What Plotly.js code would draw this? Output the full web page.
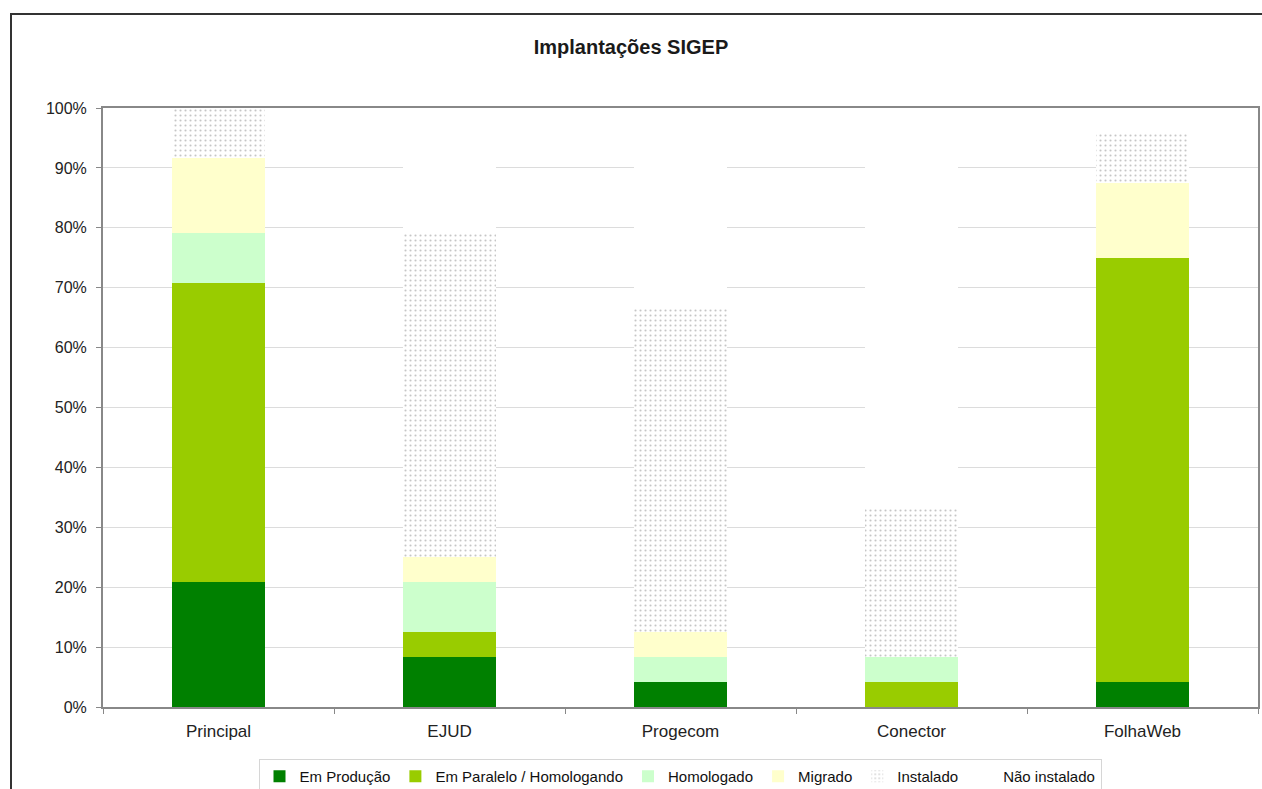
<!DOCTYPE html>
<html>
<head>
<meta charset="utf-8">
<script src="https://cdn.plot.ly/plotly-3.0.1.min.js"></script>
<style>
html,body{margin:0;padding:0;background:#fff;}
#chart{width:1262px;height:789px;}
</style>
</head>
<body>
<div id="chart"></div>
<script>
const categories = ["Principal", "EJUD", "Progecom", "Conector", "FolhaWeb"];
const seriesNames = ["Em Produção", "Em Paralelo / Homologando", "Homologado", "Migrado", "Instalado", "Não instalado"];
const emProducao   = [20.8, 8.3, 4.2, 0.0, 4.2];
const emParalelo   = [50.0, 4.2, 0.0, 4.2, 70.8];
const homologado   = [8.3, 8.3, 4.2, 4.2, 0.0];
const migrado      = [12.5, 4.2, 4.2, 0.0, 12.5];
const instalado    = [8.3, 54.2, 54.2, 25.0, 8.3];
const naoInstalado = [0.0, 20.8, 33.3, 66.7, 4.2];
const yTickVals = [0, 0.1, 0.2, 0.3, 0.4, 0.5, 0.6, 0.7, 0.8, 0.9, 1.0];
const yTickText = ["0%", "10%", "20%", "30%", "40%", "50%", "60%", "70%", "80%", "90%", "100%"];

const seriesValues = [emProducao, emParalelo, homologado, migrado, instalado, naoInstalado];
const colors = ["#008000", "#99CC00", "#CCFFCC", "#FFFFCC", "#ffffff", "#ffffff"];

const traces = seriesValues.map((vals, i) => {
  const marker = {color: colors[i], line: {width: 0}};
  if (i === 4) {
    marker.pattern = {shape: ".", fgcolor: "#c6c6c6", bgcolor: "#ffffff", size: 5, solidity: 0.14};
  }
  return {
    type: "bar",
    name: seriesNames[i],
    x: categories,
    y: vals.map(v => v / 100),
    marker: marker,
    hoverinfo: "none"
  };
});

const W = 1262, H = 789, L = 103, R = 4, T = 108, B = 82;
const pw = W - L - R, ph = H - T - B;
const px = v => (v - L) / pw;
const py = v => 1 - (v - T) / ph;

const layout = {
  width: W, height: H,
  margin: {l: L, r: R, t: T, b: B, pad: 0, autoexpand: false},
  barmode: "stack",
  bargap: 0.6,
  paper_bgcolor: "#ffffff",
  plot_bgcolor: "#ffffff",
  font: {family: "Liberation Sans, Arial, sans-serif", size: 16, color: "#222"},
  title: {text: "<b>Implantações SIGEP</b>", x: 0.5, xanchor: "center", y: 1 - 47 / H, yanchor: "middle",
          font: {size: 20, color: "#1a1a1a", family: "Liberation Sans, Arial, sans-serif"}},
  showlegend: true,
  legend: {orientation: "h", x: px(680), xanchor: "center", y: py(759), yanchor: "top",
           bordercolor: "#d6d6d6", borderwidth: 1, bgcolor: "#ffffff",
           font: {size: 15, color: "#111"}, itemwidth: 30, tracegroupgap: 0,
           traceorder: "normal"},
  xaxis: {
    type: "category",
    showline: true, linecolor: "#888", linewidth: 2, mirror: true,
    ticks: "outside", tickson: "boundaries", ticklen: 5, tickcolor: "#888",
    showgrid: false, fixedrange: true, automargin: false,
    ticklabelstandoff: 8,
    tickfont: {size: 17, color: "#222"}
  },
  yaxis: {
    range: [0, 1],
    tickvals: yTickVals, ticktext: yTickText,
    showline: true, linecolor: "#888", linewidth: 2, mirror: true,
    ticks: "outside", ticklen: 5, tickcolor: "#888",
    showgrid: true, gridcolor: "#dcdcdc", gridwidth: 1,
    zeroline: false, fixedrange: true, automargin: false,
    ticklabelstandoff: 6,
    tickfont: {size: 16, color: "#222"}
  },
  shapes: [
    {type: "line", xref: "paper", yref: "paper", x0: px(11), x1: px(11), y0: py(13), y1: py(800),
     line: {color: "#333", width: 2}},
    {type: "line", xref: "paper", yref: "paper", x0: px(10), x1: px(1270), y0: py(14), y1: py(14),
     line: {color: "#333", width: 2}}
  ]
};

Plotly.newPlot("chart", traces, layout, {displayModeBar: false, staticPlot: true});
</script>
</body>
</html>
